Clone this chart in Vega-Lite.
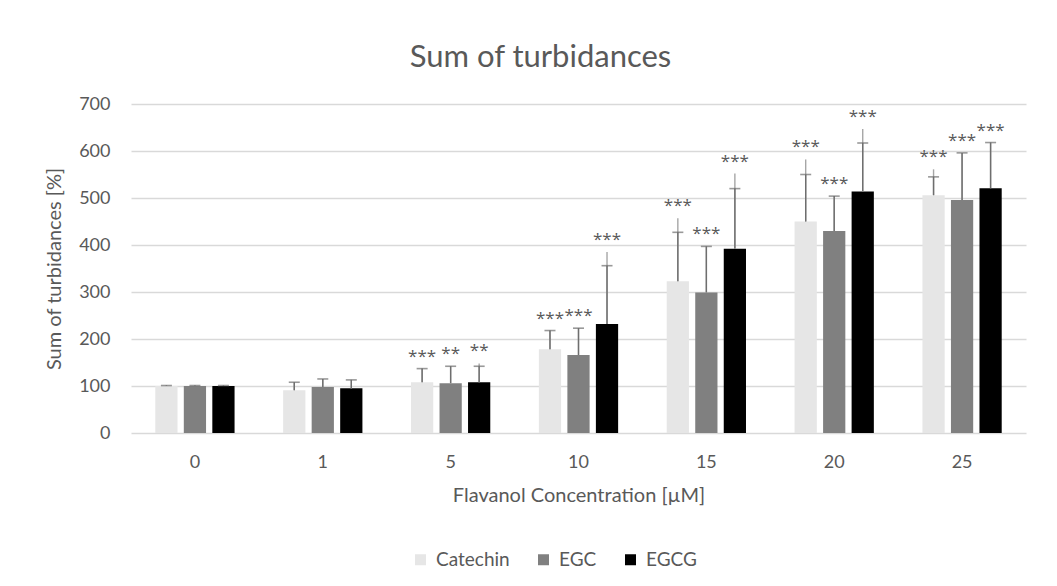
{
  "$schema": "https://vega.github.io/schema/vega-lite/v6.json",
  "width": 895,
  "height": 329,
  "autosize": {"type": "none"},
  "padding": {"left": 131, "top": 104, "right": 31, "bottom": 153},
  "background": "white",
  "config": {
    "font": "Lato",
    "view": {"stroke": null},
    "axis": {"labelColor": "#595959", "titleColor": "#595959", "labelFont": "Lato", "titleFont": "Lato", "titleFontWeight": "normal"}
  },
  "title": {
    "text": "Sum of turbidances",
    "fontSize": 31,
    "font": "Lato",
    "fontWeight": "normal",
    "color": "#595959",
    "anchor": "middle",
    "frame": "group",
    "dx": -38,
    "baseline": "alphabetic",
    "offset": -3
  },
  "data": {
    "values": [
      {"conc": "0", "flavanol": "Catechin", "mean": 100, "upper": 101, "top": 101, "sig": ""},
      {"conc": "0", "flavanol": "EGC", "mean": 100, "upper": 101, "top": 101, "sig": ""},
      {"conc": "0", "flavanol": "EGCG", "mean": 100, "upper": 101, "top": 101, "sig": ""},
      {"conc": "1", "flavanol": "Catechin", "mean": 91, "upper": 108, "top": 108, "sig": ""},
      {"conc": "1", "flavanol": "EGC", "mean": 98, "upper": 115, "top": 115, "sig": ""},
      {"conc": "1", "flavanol": "EGCG", "mean": 95, "upper": 113, "top": 113, "sig": ""},
      {"conc": "5", "flavanol": "Catechin", "mean": 108, "upper": 137, "top": 137, "sig": "***"},
      {"conc": "5", "flavanol": "EGC", "mean": 106, "upper": 142, "top": 142, "sig": "**"},
      {"conc": "5", "flavanol": "EGCG", "mean": 108, "upper": 142, "top": 148, "sig": "**"},
      {"conc": "10", "flavanol": "Catechin", "mean": 178, "upper": 218, "top": 218, "sig": "***"},
      {"conc": "10", "flavanol": "EGC", "mean": 166, "upper": 223, "top": 223, "sig": "***"},
      {"conc": "10", "flavanol": "EGCG", "mean": 232, "upper": 356, "top": 385, "sig": "***"},
      {"conc": "15", "flavanol": "Catechin", "mean": 323, "upper": 427, "top": 457, "sig": "***"},
      {"conc": "15", "flavanol": "EGC", "mean": 299, "upper": 397, "top": 397, "sig": "***"},
      {"conc": "15", "flavanol": "EGCG", "mean": 392, "upper": 520, "top": 552, "sig": "***"},
      {"conc": "20", "flavanol": "Catechin", "mean": 450, "upper": 550, "top": 582, "sig": "***"},
      {"conc": "20", "flavanol": "EGC", "mean": 430, "upper": 504, "top": 504, "sig": "***"},
      {"conc": "20", "flavanol": "EGCG", "mean": 514, "upper": 617, "top": 647, "sig": "***"},
      {"conc": "25", "flavanol": "Catechin", "mean": 506, "upper": 545, "top": 561, "sig": "***"},
      {"conc": "25", "flavanol": "EGC", "mean": 496, "upper": 596, "top": 596, "sig": "***"},
      {"conc": "25", "flavanol": "EGCG", "mean": 521, "upper": 618, "top": 618, "sig": "***"}
    ]
  },
  "encoding": {
    "x": {
      "field": "conc",
      "type": "nominal",
      "sort": ["0", "1", "5", "10", "15", "20", "25"],
      "scale": {"paddingInner": 0.38, "paddingOuter": 0.19},
      "axis": {
        "title": "Flavanol Concentration [µM]",
        "labelAngle": 0,
        "labelFontSize": 18,
        "titleFontSize": 20,
        "labelPadding": 20,
        "titlePadding": 14,
        "domain": false,
        "ticks": false
      }
    },
    "xOffset": {
      "field": "flavanol",
      "type": "nominal",
      "sort": ["Catechin", "EGC", "EGCG"],
      "scale": {"paddingInner": 0.22, "paddingOuter": 0}
    }
  },
  "layer": [
    {
      "mark": {"type": "bar"},
      "encoding": {
        "y": {
          "field": "mean",
          "type": "quantitative",
          "scale": {"domain": [0, 700]},
          "axis": {
            "title": "Sum of turbidances [%]",
            "values": [0, 100, 200, 300, 400, 500, 600, 700],
            "labelFontSize": 18,
            "titleFontSize": 20,
            "labelPadding": 21,
            "titlePadding": 14,
            "domain": false,
            "ticks": false,
            "grid": true,
            "gridColor": "#d9d9d9",
            "gridWidth": 1.3
          }
        },
        "color": {
          "field": "flavanol",
          "type": "nominal",
          "sort": ["Catechin", "EGC", "EGCG"],
          "scale": {"domain": ["Catechin", "EGC", "EGCG"], "range": ["#e6e6e6", "#808080", "#000000"]},
          "legend": {
            "title": null,
            "orient": "none",
            "direction": "horizontal",
            "legendX": 280,
            "legendY": 446,
            "symbolType": "square",
            "symbolSize": 121,
            "symbolStrokeWidth": 0,
            "labelFontSize": 19,
            "labelColor": "#595959",
            "labelFont": "Lato",
            "labelOffset": 6,
            "columnPadding": 24
          }
        }
      }
    },
    {
      "mark": {"type": "rule", "color": "#a6a6a6", "strokeWidth": 1.4},
      "encoding": {
        "y": {"field": "mean", "type": "quantitative"},
        "y2": {"field": "top"}
      }
    },
    {
      "mark": {"type": "rule", "color": "#6e6e6e", "strokeWidth": 1.4},
      "encoding": {
        "y": {"field": "mean", "type": "quantitative"},
        "y2": {"field": "upper"}
      }
    },
    {
      "mark": {"type": "tick", "color": "#6e6e6e", "size": 11, "thickness": 1.6, "orient": "horizontal"},
      "encoding": {
        "y": {"field": "upper", "type": "quantitative"}
      }
    },
    {
      "mark": {"type": "text", "color": "#595959", "fontSize": 17, "font": "Open Sans", "baseline": "alphabetic", "dy": -7},
      "encoding": {
        "y": {"field": "top", "type": "quantitative"},
        "text": {"field": "sig"}
      }
    }
  ]
}
